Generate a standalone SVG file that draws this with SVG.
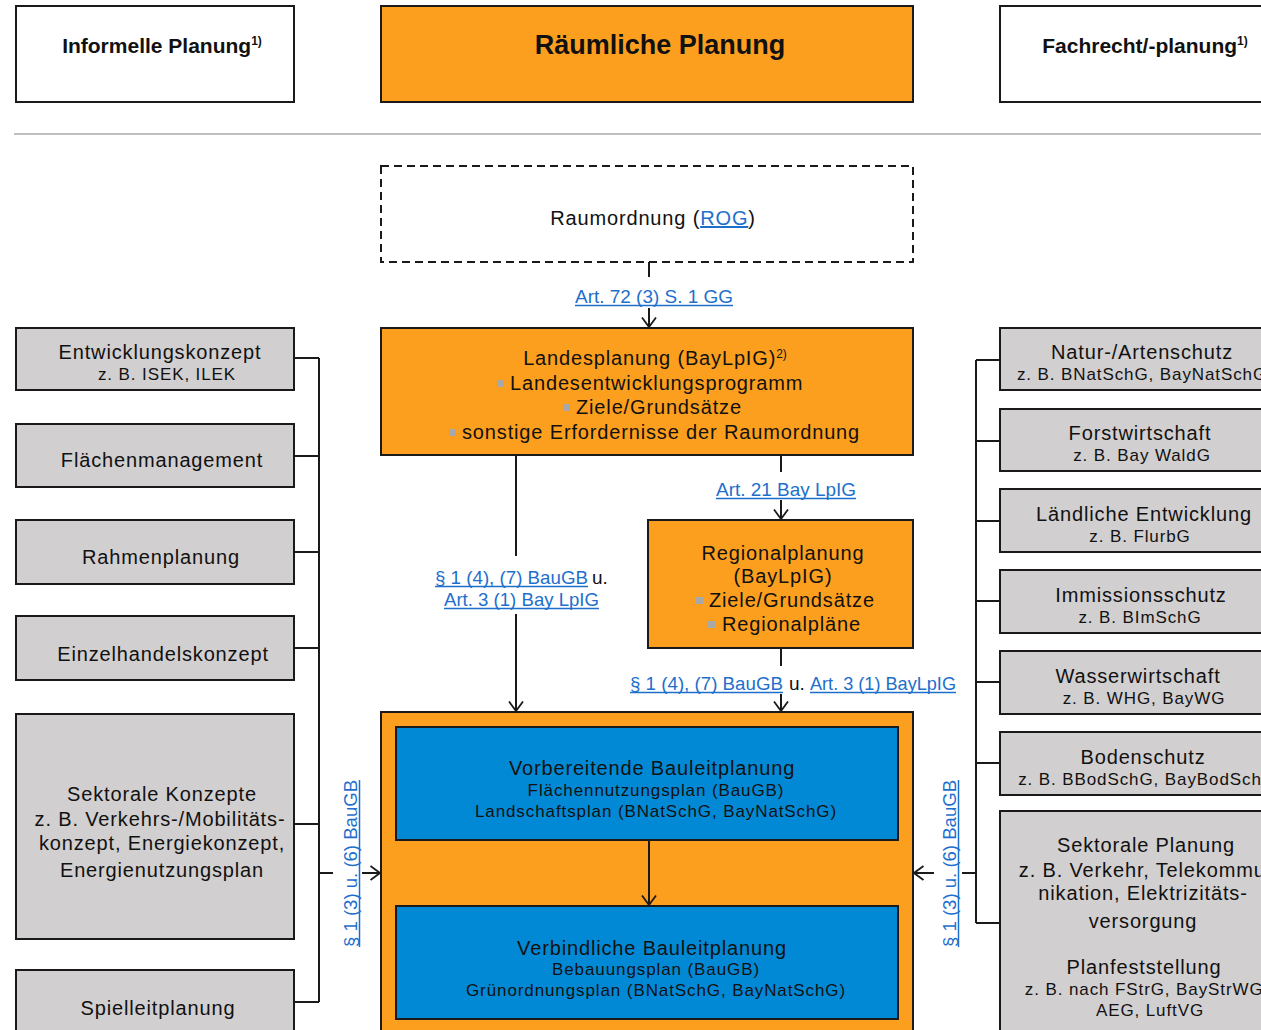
<svg xmlns="http://www.w3.org/2000/svg" width="1261" height="1030" viewBox="0 0 1261 1030">
  <style>
    text { font-family: "Liberation Sans", Arial, sans-serif; fill: #111; }
    .box { stroke: #1a1a1a; stroke-width: 2; }
    .white { fill: #ffffff; }
    .orange { fill: #fd9f1e; }
    .gray { fill: #d1cfcf; }
    .blue { fill: #0289d5; }
    .dash { fill: #ffffff; stroke: #1a1a1a; stroke-width: 2; stroke-dasharray: 8 5; }
    .hd { font-weight: bold; font-size: 21px; }
    .title { font-weight: bold; font-size: 27px; }
    .m { font-size: 20px; letter-spacing: 0.85px; text-anchor: middle; }
    .ms { font-size: 20px; letter-spacing: 0.85px; text-anchor: start; }
    .s { font-size: 17px; letter-spacing: 0.9px; text-anchor: middle; }
    .lk { font-size: 19px; letter-spacing: 0; }
    .link { fill: #1e6fcc; }
    .uline { stroke: #1e6fcc; stroke-width: 1.5; }
    .bul { fill: #a8a8a8; }
    .sup { font-size: 12px; letter-spacing: 0; }
    .wire { fill: none; stroke: #1a1a1a; stroke-width: 2; }
  </style>
  <defs>
    <marker id="arrow" viewBox="0 0 12 16" refX="10.5" refY="8" markerWidth="12" markerHeight="16" markerUnits="userSpaceOnUse" orient="auto">
      <path d="M1,1 L10.5,8 L1,15" fill="none" stroke="#1a1a1a" stroke-width="1.8"/>
    </marker>
  </defs>

  <!-- column headers -->
  <g id="head-informell">
    <rect class="box white" x="16" y="6" width="278" height="96"/>
    <text class="hd" x="162" y="53" text-anchor="middle">Informelle Planung<tspan class="sup" dy="-8">1)</tspan></text>
  </g>
  <g id="head-raeumlich">
    <rect class="box orange" x="381" y="6" width="532" height="96"/>
    <text class="title" x="660" y="54" text-anchor="middle">Räumliche Planung</text>
  </g>
  <g id="head-fachrecht">
    <rect class="box white" x="1000" y="6" width="290" height="96"/>
    <text class="hd" x="1145" y="53" text-anchor="middle">Fachrecht/-planung<tspan class="sup" dy="-8">1)</tspan></text>
  </g>
  <line x1="14" y1="134" x2="1261" y2="134" stroke="#bfbfbf" stroke-width="2"/>

  <!-- spatial planning column -->
  <g id="raumordnung">
    <rect class="dash" x="381" y="166" width="532" height="96"/>
    <text class="m" x="653" y="225">Raumordnung (<tspan class="link" text-decoration="underline">ROG</tspan>)</text>
  </g>
  <g id="landesplanung">
    <rect class="box orange" x="381" y="328" width="532" height="127"/>
    <text class="m" x="655" y="365">Landesplanung (BayLpIG)<tspan class="sup" dy="-7">2)</tspan></text>
    <rect class="bul" x="497" y="380" width="7" height="7"/>
    <text class="ms" x="510" y="390">Landesentwicklungsprogramm</text>
    <rect class="bul" x="563" y="404" width="7" height="7"/>
    <text class="ms" x="576" y="414">Ziele/Grundsätze</text>
    <rect class="bul" x="449" y="429" width="7" height="7"/>
    <text class="ms" x="462" y="439">sonstige Erfordernisse der Raumordnung</text>
  </g>
  <g id="regionalplanung">
    <rect class="box orange" x="648" y="520" width="265" height="128"/>
    <text class="m" x="783" y="560">Regionalplanung</text>
    <text class="m" x="783" y="583">(BayLpIG)</text>
    <rect class="bul" x="696" y="597" width="7" height="7"/>
    <text class="ms" x="709" y="607">Ziele/Grundsätze</text>
    <rect class="bul" x="708" y="621" width="7" height="7"/>
    <text class="ms" x="722" y="631">Regionalpläne</text>
  </g>
  <g id="bauleitplanung">
    <rect class="box orange" x="381" y="712" width="532" height="340"/>
  </g>
  <g id="vorbereitend">
    <rect class="box blue" x="396" y="727" width="502" height="113"/>
    <text class="m" x="652" y="775">Vorbereitende Bauleitplanung</text>
    <text class="s" x="656" y="796">Flächennutzungsplan (BauGB)</text>
    <text class="s" x="656" y="817">Landschaftsplan (BNatSchG, BayNatSchG)</text>
  </g>
  <g id="verbindlich">
    <rect class="box blue" x="396" y="906" width="502" height="113"/>
    <text class="m" x="652" y="955">Verbindliche Bauleitplanung</text>
    <text class="s" x="656" y="975">Bebauungsplan (BauGB)</text>
    <text class="s" x="656" y="996">Grünordnungsplan (BNatSchG, BayNatSchG)</text>
  </g>

  <!-- informal planning column -->
  <g id="entwicklungskonzept">
    <rect class="box gray" x="16" y="328" width="278" height="62"/>
    <text class="m" x="160" y="359">Entwicklungskonzept</text>
    <text class="s" x="167" y="380">z. B. ISEK, ILEK</text>
  </g>
  <g id="flaechenmanagement">
    <rect class="box gray" x="16" y="424" width="278" height="63"/>
    <text class="m" x="162" y="467">Flächenmanagement</text>
  </g>
  <g id="rahmenplanung">
    <rect class="box gray" x="16" y="520" width="278" height="64"/>
    <text class="m" x="161" y="564">Rahmenplanung</text>
  </g>
  <g id="einzelhandelskonzept">
    <rect class="box gray" x="16" y="616" width="278" height="64"/>
    <text class="m" x="163" y="661">Einzelhandelskonzept</text>
  </g>
  <g id="sektorale-konzepte">
    <rect class="box gray" x="16" y="714" width="278" height="225"/>
    <text class="m" x="162" y="801">Sektorale Konzepte</text>
    <text class="m" x="160" y="826">z. B. Verkehrs-/Mobilitäts-</text>
    <text class="m" x="162" y="850">konzept, Energiekonzept,</text>
    <text class="m" x="162" y="877">Energienutzungsplan</text>
  </g>
  <g id="spielleitplanung">
    <rect class="box gray" x="16" y="970" width="278" height="80"/>
    <text class="m" x="158" y="1015">Spielleitplanung</text>
  </g>

  <!-- sectoral law column (boxes run past the right edge) -->
  <g id="naturschutz">
    <rect class="box gray" x="1000" y="328" width="290" height="62"/>
    <text class="m" x="1142" y="359">Natur-/Artenschutz</text>
    <text class="s" x="1142" y="380">z. B. BNatSchG, BayNatSchG</text>
  </g>
  <g id="forstwirtschaft">
    <rect class="box gray" x="1000" y="409" width="290" height="62"/>
    <text class="m" x="1140" y="440">Forstwirtschaft</text>
    <text class="s" x="1142" y="461">z. B. Bay WaldG</text>
  </g>
  <g id="laendliche-entwicklung">
    <rect class="box gray" x="1000" y="489" width="290" height="63"/>
    <text class="m" x="1144" y="521">Ländliche Entwicklung</text>
    <text class="s" x="1140" y="542">z. B. FlurbG</text>
  </g>
  <g id="immissionsschutz">
    <rect class="box gray" x="1000" y="570" width="290" height="63"/>
    <text class="m" x="1141" y="602">Immissionsschutz</text>
    <text class="s" x="1140" y="623">z. B. BImSchG</text>
  </g>
  <g id="wasserwirtschaft">
    <rect class="box gray" x="1000" y="651" width="290" height="63"/>
    <text class="m" x="1138" y="683">Wasserwirtschaft</text>
    <text class="s" x="1144" y="704">z. B. WHG, BayWG</text>
  </g>
  <g id="bodenschutz">
    <rect class="box gray" x="1000" y="732" width="290" height="63"/>
    <text class="m" x="1143" y="764">Bodenschutz</text>
    <text class="s" x="1147" y="785">z. B. BBodSchG, BayBodSchG</text>
  </g>
  <g id="sektorale-planung">
    <rect class="box gray" x="1000" y="811" width="290" height="240"/>
    <text class="m" x="1146" y="852">Sektorale Planung</text>
    <text class="m" x="1146" y="877">z. B. Verkehr, Telekommu-</text>
    <text class="m" x="1143" y="900">nikation, Elektrizitäts-</text>
    <text class="m" x="1143" y="928">versorgung</text>
    <text class="m" x="1144" y="974">Planfeststellung</text>
    <text class="s" x="1147" y="995">z. B. nach FStrG, BayStrWG,</text>
    <text class="s" x="1150" y="1016">AEG, LuftVG</text>
  </g>

  <!-- connectors -->
  <g id="connectors">
    <!-- Raumordnung to Landesplanung -->
    <path class="wire" d="M649,262 V277"/>
    <path class="wire" d="M649,308 V327" marker-end="url(#arrow)"/>
    <!-- Landesplanung to Bauleitplanung -->
    <path class="wire" d="M516,455 V556"/>
    <path class="wire" d="M516,614 V711" marker-end="url(#arrow)"/>
    <!-- Landesplanung to Regionalplanung -->
    <path class="wire" d="M781,455 V472"/>
    <path class="wire" d="M781,500 V519" marker-end="url(#arrow)"/>
    <!-- Regionalplanung to Bauleitplanung -->
    <path class="wire" d="M781,648 V666"/>
    <path class="wire" d="M781,694 V711" marker-end="url(#arrow)"/>
    <!-- preparatory to binding land-use plan -->
    <path class="wire" d="M649,840 V905" marker-end="url(#arrow)"/>

    <!-- informal planning bracket -->
    <path class="wire" d="M319,358 V1002"/>
    <path class="wire" d="M295,358 H319 M295,456 H319 M295,552 H319 M295,648 H319 M295,824 H319 M295,1002 H319"/>
    <path class="wire" d="M319,873 H333"/>
    <path class="wire" d="M362,873 H380" marker-end="url(#arrow)"/>

    <!-- sectoral law bracket -->
    <path class="wire" d="M976,360 V923"/>
    <path class="wire" d="M976,360 H999 M976,441 H999 M976,521 H999 M976,601 H999 M976,682 H999 M976,763 H999 M976,923 H999"/>
    <path class="wire" d="M976,873 H962"/>
    <path class="wire" d="M934,873 H914" marker-end="url(#arrow)"/>

    <!-- legal references (links with solid underlines) -->
    <text class="lk link" x="575" y="303" textLength="158" lengthAdjust="spacingAndGlyphs">Art. 72 (3) S. 1 GG</text>
    <line class="uline" x1="575" y1="305.5" x2="733" y2="305.5"/>

    <text class="lk link" x="716" y="496" textLength="140" lengthAdjust="spacingAndGlyphs">Art. 21 Bay LpIG</text>
    <line class="uline" x1="716" y1="498.5" x2="856" y2="498.5"/>

    <text class="lk link" x="435" y="584" textLength="153" lengthAdjust="spacingAndGlyphs">§ 1 (4), (7) BauGB</text>
    <text class="lk" x="592" y="584">u.</text>
    <line class="uline" x1="435" y1="586.5" x2="588" y2="586.5"/>
    <text class="lk link" x="444" y="606" textLength="155" lengthAdjust="spacingAndGlyphs">Art. 3 (1) Bay LpIG</text>
    <line class="uline" x1="444" y1="608.5" x2="599" y2="608.5"/>

    <text class="lk link" x="630" y="690" textLength="153" lengthAdjust="spacingAndGlyphs">§ 1 (4), (7) BauGB</text>
    <text class="lk" x="789" y="690">u.</text>
    <text class="lk link" x="810" y="690" textLength="146" lengthAdjust="spacingAndGlyphs">Art. 3 (1) BayLpIG</text>
    <line class="uline" x1="630" y1="692.5" x2="783" y2="692.5"/>
    <line class="uline" x1="810" y1="692.5" x2="956" y2="692.5"/>

    <text class="lk link" transform="translate(357,947) rotate(-90)" textLength="167" lengthAdjust="spacingAndGlyphs">§ 1 (3) u. (6) BauGB</text>
    <line class="uline" x1="359.5" y1="947" x2="359.5" y2="780"/>
    <text class="lk link" transform="translate(956,947) rotate(-90)" textLength="167" lengthAdjust="spacingAndGlyphs">§ 1 (3) u. (6) BauGB</text>
    <line class="uline" x1="958.5" y1="947" x2="958.5" y2="780"/>
  </g>
</svg>
